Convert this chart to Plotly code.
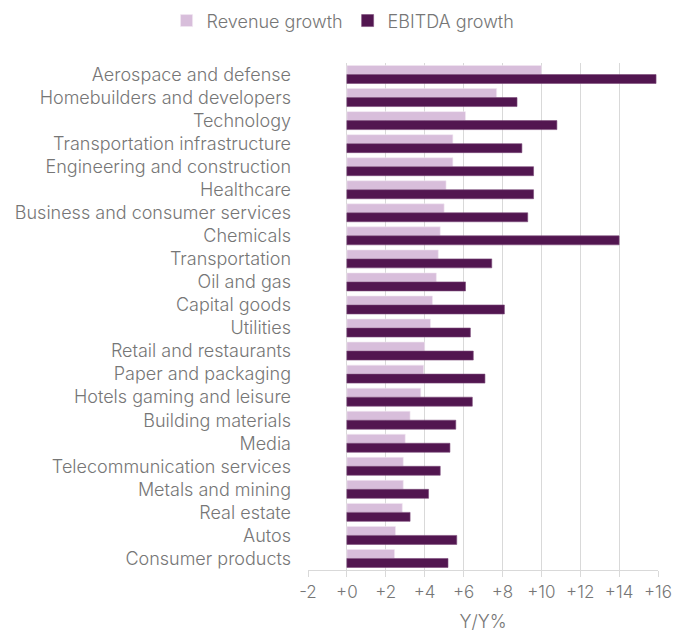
import plotly.graph_objects as go

categories = [
    "Aerospace and defense", "Homebuilders and developers", "Technology",
    "Transportation infrastructure", "Engineering and construction", "Healthcare",
    "Business and consumer services", "Chemicals", "Transportation", "Oil and gas",
    "Capital goods", "Utilities", "Retail and restaurants", "Paper and packaging",
    "Hotels gaming and leisure", "Building materials", "Media",
    "Telecommunication services", "Metals and mining", "Real estate", "Autos",
    "Consumer products",
]
revenue_growth = [10.0, 7.7, 6.1, 5.45, 5.45, 5.1, 5.0, 4.8, 4.7, 4.6, 4.4, 4.3,
                  4.0, 3.95, 3.8, 3.25, 3.0, 2.9, 2.9, 2.85, 2.5, 2.45]
ebitda_growth = [15.9, 8.75, 10.8, 9.0, 9.6, 9.6, 9.3, 14.0, 7.45, 6.1, 8.1, 6.35,
                 6.5, 7.1, 6.45, 5.6, 5.3, 4.8, 4.2, 3.25, 5.65, 5.2]
tick_values = [-2, 0, 2, 4, 6, 8, 10, 12, 14, 16]
tick_labels = ["-2", "+0", "+2", "+4", "+6", "+8", "+10", "+12", "+14", "+16"]

FONT = "Inter"
GREY = "#767676"
TXT = dict(family=FONT, size=18, color=GREY, weight=300)
TICK_TXT = dict(family=FONT, size=17, color=GREY, weight=300)

fig = go.Figure()
fig.add_trace(go.Bar(
    y=categories, x=revenue_growth, orientation="h", name="Revenue growth",
    marker=dict(color="#D8BEDB", line=dict(color="#f2e8f2", width=0.6)),
))
fig.add_trace(go.Bar(
    y=categories, x=ebitda_growth, orientation="h", name="EBITDA growth",
    marker=dict(color="#521650", line=dict(color="#7a4a78", width=0.6)),
))

fig.update_layout(
    width=674, height=632,
    margin=dict(l=308, r=16, t=63, b=62, autoexpand=False),
    paper_bgcolor="white", plot_bgcolor="white",
    barmode="group", bargap=0.22, bargroupgap=0.0,
    font=TXT,
    legend=dict(
        orientation="h", x=0.509, xanchor="center", xref="container",
        y=0.967, yanchor="middle", yref="container", font=TXT,
        itemwidth=30, traceorder="normal",
    ),
    showlegend=True,
)
fig.update_xaxes(
    range=[-2, 16], tickvals=tick_values, ticktext=tick_labels,
    automargin=False,
    showgrid=True, gridcolor="#d9d9d9", gridwidth=1.3,
    zeroline=False, showline=True, linecolor="#d9d9d9", linewidth=1.3,
    ticks="outside", ticklen=6, tickcolor="#d9d9d9", tickwidth=1.3,
    tickfont=TICK_TXT,
    title=dict(text="Y/Y%", font=TXT, standoff=23),
)
fig.update_yaxes(
    autorange="reversed", automargin=False, showgrid=False, showline=False, ticks="",
    ticklabelstandoff=16, tickfont=TXT,
)

fig.write_html("out.html")
